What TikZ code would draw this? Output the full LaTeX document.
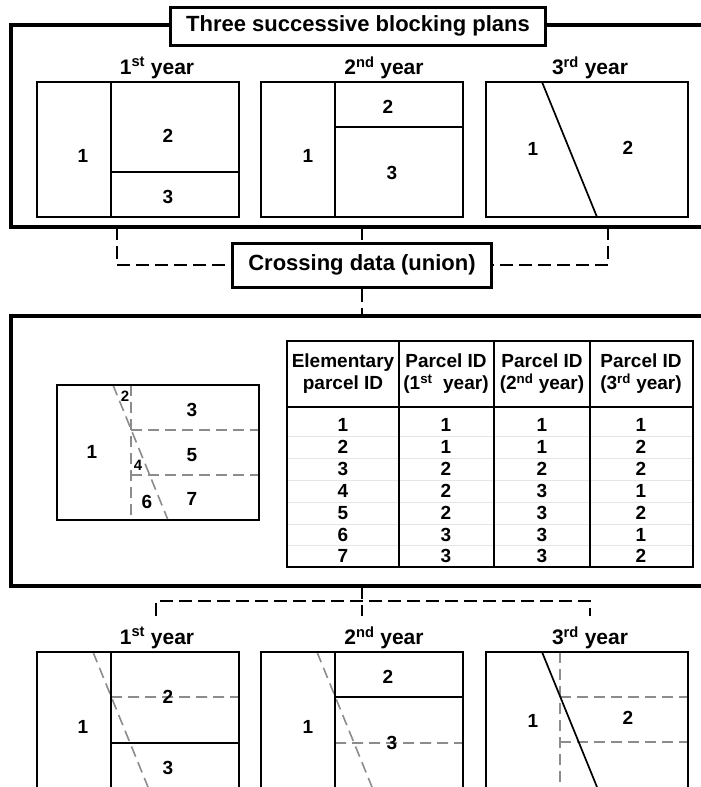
\documentclass[tikz,border=0pt]{standalone}
\usepackage{fontspec}
\setmainfont{Liberation Sans}
\definecolor{union}{gray}{0.55}
\definecolor{rowline}{gray}{0.9}
\tikzset{
    frame/.style = {draw=black, line width=3.5pt},
    headbox/.style = {rectangle, draw=black, fill=white, line width=3pt, text=black, inner sep=0pt, font=\fontsize{22}{26}\selectfont\bfseries},
    year/.style = {font=\fontsize{21}{24}\selectfont\bfseries},
    plan/.style = {draw=black, line width=2pt},
    bound/.style = {draw=black, line width=1.7pt},
    ghost/.style = {draw=union, line width=1.6pt, dash pattern=on 11pt off 6pt},
    link/.style = {draw=black, line width=2pt, dash pattern=on 13pt off 6pt},
    lab/.style = {font=\fontsize{19}{22}\selectfont\bfseries},
    tiny/.style = {font=\fontsize{15}{17}\selectfont\bfseries},
    head/.style = {align=center, inner sep=0pt, font=\fontsize{19}{22}\selectfont\bfseries},
    cell/.style = {inner sep=0pt, font=\fontsize{19}{21}\selectfont\bfseries}
}
\begin{document}
\begin{tikzpicture}[x=1pt, y=-1pt]
    \useasboundingbox (0,0) rectangle (701,787);
    \clip (0,0) rectangle (701,787);

    % the two big frames (open to the right)
    \draw[frame] (720,25) -- (11,25) -- (11,227) -- (720,227);
    \draw[frame] (720,316) -- (11,316) -- (11,586) -- (720,586);

    \node[headbox, minimum width=375pt, minimum height=38pt] (title) at (358,26) {Three successive blocking plans};
    \node[headbox, minimum width=259pt, minimum height=44pt] (cross) at (362,265) {Crossing data (union)};

    % connectors
    \coordinate (t1) at (117,227);
    \coordinate (t2) at (362,227);
    \coordinate (t3) at (608,227);
    \coordinate (m0) at (362,316);
    \coordinate (b0) at (362,586);
    \coordinate (b1) at (156,616);
    \coordinate (b3) at (590,616);
    \draw[link] (t1) |- (cross.west);
    \draw[link] (t3) |- (cross.east);
    \draw[link] (t2) -- (cross.north);
    \draw[link] (cross.south) -- (m0);
    \draw[link] (b1) -- ++(0,-15) -| (b3);
    \draw[link] (b0) -- (b0 |- b1);

    % years, top row
    \node[year] (y1) at (157,68) {1\textsuperscript{st} year};
    \node[year] (y2) at (384,68) {2\textsuperscript{nd} year};
    \node[year] (y3) at (590,68) {3\textsuperscript{rd} year};

    \begin{scope}[shift={(37,82)}]
        \draw[bound] (74,0) -- (74,135) (74,90) -- (202,90);
        \draw[plan] (0,0) rectangle (202,135);
        \node[lab] (a1) at (46,74) {1};
        \node[lab] (a2) at (131,54) {2};
        \node[lab] (a3) at (131,115) {3};
    \end{scope}
    \begin{scope}[shift={(261,82)}]
        \draw[bound] (74,0) -- (74,135) (74,45) -- (202,45);
        \draw[plan] (0,0) rectangle (202,135);
        \node[lab] (b2) at (127,25) {2};
        \node[lab] (bb1) at (47,74) {1};
        \node[lab] (bb3) at (131,91) {3};
    \end{scope}
    \begin{scope}[shift={(486,82)}]
        \draw[bound] (56,0) -- (111,135);
        \draw[plan] (0,0) rectangle (202,135);
        \node[lab] (c1) at (47,67) {1};
        \node[lab] (c2) at (142,66) {2};
    \end{scope}

    % union of the three plans
    \begin{scope}[shift={(57,385)}]
        \draw[ghost] (74,0) -- (74,135) (74,45) -- (202,45) (74,90) -- (202,90);
        \draw[ghost] (56,0) -- (111,135);
        \draw[plan] (0,0) rectangle (202,135);
        \node[lab] (u1) at (35,67) {1};
        \node[tiny] (u2) at (68,11) {2};
        \node[lab] (u3) at (135,25) {3};
        \node[tiny] (u4) at (81,80) {4};
        \node[lab] (u5) at (135,70) {5};
        \node[lab] (u6) at (90,117) {6};
        \node[lab] (u7) at (135,114) {7};
    \end{scope}

    % table
    \draw[rowline, line width=1pt] (287,436) -- (693,436) (287,458) -- (693,458) (287,480) -- (693,480)
                                   (287,502) -- (693,502) (287,524) -- (693,524) (287,545) -- (693,545);
    \draw[bound] (399,341) -- (399,567) (494,341) -- (494,567) (590,341) -- (590,567) (287,407) -- (693,407);
    \draw[plan] (287,341) rectangle (693,567);

    \node[head] (h1) at (343,374) {Elementary\\parcel ID};
    \node[head] (h2) at (446,374) {Parcel ID\\(1\textsuperscript{st}\ \ year)};
    \node[head] (h3) at (542,374) {Parcel ID\\(2\textsuperscript{nd} year)};
    \node[head] (h4) at (641,374) {Parcel ID\\(3\textsuperscript{rd} year)};

    \node[cell] (e1) at (343,425) {1}; \node[cell] (f1) at (446,425) {1}; \node[cell] (g1) at (542,425) {1}; \node[cell] (k1) at (641,425) {1};
    \node[cell] (e2) at (343,447) {2}; \node[cell] (f2) at (446,447) {1}; \node[cell] (g2) at (542,447) {1}; \node[cell] (k2) at (641,447) {2};
    \node[cell] (e3) at (343,469) {3}; \node[cell] (f3) at (446,469) {2}; \node[cell] (g3) at (542,469) {2}; \node[cell] (k3) at (641,469) {2};
    \node[cell] (e4) at (343,491) {4}; \node[cell] (f4) at (446,491) {2}; \node[cell] (g4) at (542,491) {3}; \node[cell] (k4) at (641,491) {1};
    \node[cell] (e5) at (343,513) {5}; \node[cell] (f5) at (446,513) {2}; \node[cell] (g5) at (542,513) {3}; \node[cell] (k5) at (641,513) {2};
    \node[cell] (e6) at (343,535) {6}; \node[cell] (f6) at (446,535) {3}; \node[cell] (g6) at (542,535) {3}; \node[cell] (k6) at (641,535) {1};
    \node[cell] (e7) at (343,556) {7}; \node[cell] (f7) at (446,556) {3}; \node[cell] (g7) at (542,556) {3}; \node[cell] (k7) at (641,556) {2};

    % years, bottom row (each plan over the union)
    \node[year] (z1) at (157,638) {1\textsuperscript{st} year};
    \node[year] (z2) at (384,638) {2\textsuperscript{nd} year};
    \node[year] (z3) at (590,638) {3\textsuperscript{rd} year};

    \begin{scope}[shift={(37,652)}]
        \draw[ghost] (74,45) -- (202,45) (56,0) -- (111,135);
        \draw[bound] (74,0) -- (74,140) (74,91) -- (202,91);
        \draw[plan] (0,0) rectangle (202,140);
        \node[lab] (d1) at (46,75) {1};
        \node[lab] (d2) at (131,45) {2};
        \node[lab] (d3) at (131,116) {3};
    \end{scope}
    \begin{scope}[shift={(261,652)}]
        \draw[ghost] (74,91) -- (202,91) (56,0) -- (111,135);
        \draw[bound] (74,0) -- (74,140) (74,45) -- (202,45);
        \draw[plan] (0,0) rectangle (202,140);
        \node[lab] (n2) at (127,25) {2};
        \node[lab] (n1) at (47,75) {1};
        \node[lab] (n3) at (131,91) {3};
    \end{scope}
    \begin{scope}[shift={(486,652)}]
        \draw[ghost] (74,0) -- (74,140) (74,45) -- (202,45) (74,90) -- (202,90);
        \draw[bound] (56,0) -- (111,135);
        \draw[plan] (0,0) rectangle (202,140);
        \node[lab] (s1) at (47,69) {1};
        \node[lab] (s2) at (142,66) {2};
    \end{scope}
\end{tikzpicture}
\end{document}
